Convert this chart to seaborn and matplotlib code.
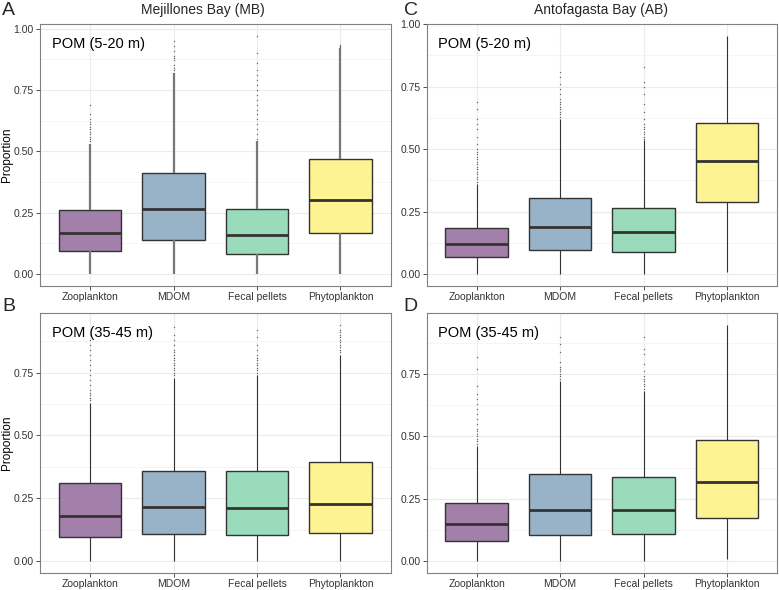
import numpy as np
import pandas as pd
import matplotlib
matplotlib.use('Agg')
import matplotlib.pyplot as plt
import matplotlib.colors as mcolors
import seaborn as sns

categories = ['Zooplankton', 'MDOM', 'Fecal pellets', 'Phytoplankton']
viridis4 = ['#440154', '#31688E', '#35B779', '#FDE725']

# box summaries per source: whisker low, q1, median, q3, whisker high
mb_shallow_stats = [
    [0.00, 0.094, 0.168, 0.263, 0.53],
    [0.00, 0.140, 0.266, 0.412, 0.82],
    [0.00, 0.083, 0.160, 0.265, 0.54],
    [0.00, 0.166, 0.301, 0.468, 0.92],
]
mb_deep_stats = [
    [0.00, 0.096, 0.179, 0.311, 0.63],
    [0.00, 0.107, 0.216, 0.357, 0.73],
    [0.00, 0.104, 0.211, 0.357, 0.74],
    [0.00, 0.113, 0.227, 0.395, 0.82],
]
ab_shallow_stats = [
    [0.00, 0.070, 0.120, 0.186, 0.36],
    [0.00, 0.096, 0.187, 0.304, 0.62],
    [0.00, 0.087, 0.167, 0.266, 0.535],
    [0.01, 0.289, 0.452, 0.605, 0.953],
]
ab_deep_stats = [
    [0.00, 0.081, 0.149, 0.233, 0.46],
    [0.00, 0.106, 0.207, 0.351, 0.72],
    [0.00, 0.110, 0.206, 0.338, 0.68],
    [0.01, 0.172, 0.319, 0.485, 0.947],
]

# outlying points above the upper whisker
mb_shallow_out = [
    [0.54, 0.55, 0.56, 0.57, 0.58, 0.59, 0.60, 0.61, 0.62, 0.63, 0.65, 0.69],
    [0.83, 0.84, 0.85, 0.87, 0.88, 0.89, 0.91, 0.93, 0.95],
    [0.55, 0.57, 0.59, 0.61, 0.63, 0.65, 0.67, 0.69, 0.71, 0.73, 0.75, 0.77,
     0.79, 0.81, 0.83, 0.86, 0.90, 0.97],
    [0.925, 0.93, 0.935],
]
mb_deep_out = [
    [0.64, 0.65, 0.66, 0.67, 0.68, 0.70, 0.72, 0.74, 0.76, 0.78, 0.80, 0.82,
     0.84, 0.86, 0.88],
    [0.74, 0.75, 0.76, 0.77, 0.78, 0.79, 0.80, 0.81, 0.82, 0.83, 0.84, 0.86,
     0.88, 0.90, 0.93],
    [0.75, 0.76, 0.77, 0.78, 0.79, 0.80, 0.81, 0.82, 0.84, 0.86, 0.89, 0.92],
    [0.83, 0.84, 0.85, 0.86, 0.87, 0.88, 0.89, 0.90, 0.91, 0.92, 0.94],
]
ab_shallow_out = [
    [0.37, 0.38, 0.39, 0.40, 0.41, 0.42, 0.43, 0.44, 0.45, 0.46, 0.47, 0.48,
     0.49, 0.50, 0.52, 0.55, 0.58, 0.60, 0.62, 0.66, 0.69],
    [0.63, 0.64, 0.65, 0.66, 0.67, 0.68, 0.69, 0.70, 0.72, 0.74, 0.76, 0.79, 0.81],
    [0.54, 0.55, 0.56, 0.57, 0.58, 0.59, 0.60, 0.62, 0.65, 0.68, 0.72, 0.75,
     0.77, 0.83],
    [],
]
ab_deep_out = [
    [0.47, 0.48, 0.49, 0.50, 0.51, 0.52, 0.53, 0.55, 0.57, 0.59, 0.61, 0.63,
     0.65, 0.67, 0.70, 0.77, 0.82],
    [0.73, 0.74, 0.75, 0.76, 0.77, 0.78, 0.80, 0.84, 0.87, 0.90],
    [0.69, 0.70, 0.71, 0.72, 0.73, 0.74, 0.76, 0.79, 0.83, 0.85, 0.90],
    [],
]

sns.set_theme(style='white')
plt.rcParams['font.family'] = ['Liberation Sans', 'DejaVu Sans']

# viridis at alpha 0.5 over white
box_colors = [tuple(0.5 * np.array(mcolors.to_rgb(c)) + 0.5) for c in viridis4]
palette = dict(zip(categories, box_colors))


def draw_panel(ax, stats, outliers, label, show_ylab, whisk_color, whisk_lw):
    box_df = pd.DataFrame([(cat, v) for cat, row in zip(categories, stats) for v in row],
                          columns=['source', 'value'])
    out_df = pd.DataFrame([(cat, v) for cat, row in zip(categories, outliers) for v in row],
                          columns=['source', 'value'])

    sns.boxplot(data=box_df, x='source', y='value', hue='source', order=categories,
                palette=palette, saturation=1, legend=False, whis=(0, 100), width=0.75,
                showcaps=False, linecolor='#333333', linewidth=1.0,
                medianprops={'color': '#333333', 'linewidth': 2.0},
                whiskerprops={'color': whisk_color, 'linewidth': whisk_lw},
                ax=ax, zorder=2)
    sns.stripplot(data=out_df, x='source', y='value', order=categories, jitter=False,
                  size=1.0, color='#666666', linewidth=0, ax=ax, zorder=3)

    vals = box_df['value'].tolist() + out_df['value'].tolist()
    lo, hi = min(vals), max(vals)
    pad = 0.05 * (hi - lo)
    ax.set_ylim(lo - pad, hi + pad)
    ax.set_xlim(-0.6, 3.6)

    ax.set_yticks([t for t in [0, 0.25, 0.5, 0.75, 1.0] if lo - pad <= t <= hi + pad])
    ax.set_yticks([t for t in [0.125, 0.375, 0.625, 0.875] if lo - pad <= t <= hi + pad],
                  minor=True)
    ax.yaxis.set_major_formatter(matplotlib.ticker.FormatStrFormatter('%.2f'))
    ax.tick_params(axis='both', which='major', labelsize=7.5, length=3, width=0.6,
                   color='#333333', labelcolor='#333333', pad=1.5, left=True, bottom=True)
    ax.tick_params(axis='y', which='minor', length=0)

    ax.grid(True, which='major', color='#ebebeb', linewidth=0.8)
    ax.grid(True, which='minor', axis='y', color='#f2f2f2', linewidth=0.5)
    ax.set_axisbelow(True)
    for sp in ax.spines.values():
        sp.set_color('#808080')
        sp.set_linewidth(0.8)

    ax.set_xlabel('')
    if show_ylab:
        ax.set_ylabel('Proportion', fontsize=8.5, color='black', va='center')
        ax.yaxis.set_label_coords(-0.094, 0.5)
    else:
        ax.set_ylabel('')
    ax.text(0.033, 0.925, label, transform=ax.transAxes, fontsize=10.5,
            ha='left', va='center', color='black')


fig = plt.figure(figsize=(7.79, 5.9), dpi=100)
W, H = 779, 590


def add_axes(left, top, right, bottom):
    return fig.add_axes([left / W, 1 - bottom / H, (right - left) / W, (bottom - top) / H])


ax_a = add_axes(40, 24, 390.5, 286)
ax_b = add_axes(40, 313, 390.5, 573)
ax_c = add_axes(426.7, 24, 777, 286)
ax_d = add_axes(426.7, 313, 777, 573)

draw_panel(ax_a, mb_shallow_stats, mb_shallow_out, 'POM (5-20 m)', True, '#777777', 1.6)
draw_panel(ax_b, mb_deep_stats, mb_deep_out, 'POM (35-45 m)', True, '#333333', 0.8)
draw_panel(ax_c, ab_shallow_stats, ab_shallow_out, 'POM (5-20 m)', False, '#333333', 0.8)
draw_panel(ax_d, ab_deep_stats, ab_deep_out, 'POM (35-45 m)', False, '#333333', 0.8)

fig.text(203 / W, 1 - 10 / H, 'Mejillones Bay (MB)', ha='center', va='center', fontsize=10)
fig.text(601 / W, 1 - 10 / H, 'Antofagasta Bay (AB)', ha='center', va='center', fontsize=10)

for letter, x, y in [('A', 2, 2), ('B', 2, 298), ('C', 404, 2), ('D', 403, 298)]:
    fig.text(x / W, 1 - y / H, letter, ha='left', va='top', fontsize=14)

fig.savefig('out.png', dpi=100)
